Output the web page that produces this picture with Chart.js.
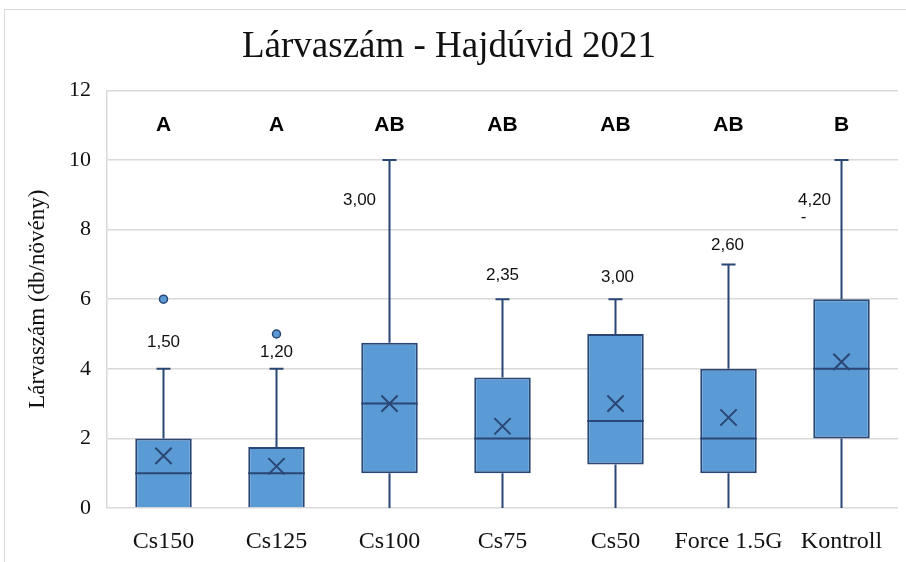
<!DOCTYPE html>
<html><head><meta charset="utf-8">
<script src="https://cdn.jsdelivr.net/npm/chart.js@4"></script>
<style>
html,body{margin:0;padding:0;background:#fff}
#wrap{position:relative;width:906px;height:562px;overflow:hidden}
#frame{position:absolute;left:4px;top:9px;width:920px;height:600px;border:1px solid #d9d9d9;box-sizing:border-box}
canvas{position:absolute;left:0;top:0}
</style></head>
<body><div id="wrap"><div id="frame"></div><canvas id="c" width="906" height="562" style="width:906px;height:562px"></canvas></div>
<script>
const categories = ['Cs150','Cs125','Cs100','Cs75','Cs50','Force 1.5G','Kontroll'];
const whiskerLow  = [0, 0, 0, 0, 0, 0, 0];
const q1          = [0, 0, 1, 1, 1.25, 1, 2];
const median      = [1, 1, 3, 2, 2.5, 2, 4];
const q3          = [2, 1.75, 4.75, 3.75, 5, 4, 6];
const whiskerHigh = [4, 4, 10, 6, 6, 7, 10];
const means       = [1.5, 1.2, 3.0, 2.35, 3.0, 2.6, 4.2];
const outliers    = [6, 5, null, null, null, null, null];
const groupLetters = ['A','A','AB','AB','AB','AB','B'];

const NAVY = '#2A4674';
const FILL = '#5B9BD5';
// label placement (pixels) relative to category centre / whisker top
const labelOffsets = [[0,-26],[0,-16],[-30,40],[0,-24],[2,-22],[-1,-19],[-27,40]];

const boxPlugin = {
  id: 'boxParts',
  afterDatasetsDraw(chart) {
    const ctx = chart.ctx, x = chart.scales.x, y = chart.scales.y;
    const meta = chart.getDatasetMeta(2);
    ctx.save();
    ctx.strokeStyle = NAVY;
    ctx.lineWidth = 2;
    categories.forEach((c, i) => {
      const cx = x.getPixelForValue(i);
      const w = meta.data[i].width;
      ctx.beginPath();
      // upper whisker
      ctx.moveTo(cx, y.getPixelForValue(q3[i]));
      ctx.lineTo(cx, y.getPixelForValue(whiskerHigh[i]));
      ctx.moveTo(cx - 7, y.getPixelForValue(whiskerHigh[i]));
      ctx.lineTo(cx + 7, y.getPixelForValue(whiskerHigh[i]));
      // lower whisker
      if (q1[i] > whiskerLow[i]) {
        ctx.moveTo(cx, y.getPixelForValue(q1[i]));
        ctx.lineTo(cx, y.getPixelForValue(whiskerLow[i]));
      }
      // median
      ctx.moveTo(cx - w / 2, y.getPixelForValue(median[i]));
      ctx.lineTo(cx + w / 2, y.getPixelForValue(median[i]));
      ctx.stroke();
    });
    ctx.restore();
  },
  afterDraw(chart) {
    const ctx = chart.ctx, x = chart.scales.x, y = chart.scales.y;
    ctx.save();
    ctx.textAlign = 'center';
    ctx.textBaseline = 'middle';
    categories.forEach((c, i) => {
      const cx = x.getPixelForValue(i);
      ctx.fillStyle = '#000';
      ctx.font = 'bold 21px "Liberation Sans", Arial, sans-serif';
      ctx.fillText(groupLetters[i], cx, y.getPixelForValue(11));
      ctx.fillStyle = '#111';
      ctx.font = '17px "Liberation Sans", Arial, sans-serif';
      const [dx, dy] = labelOffsets[i];
      ctx.fillText(means[i].toFixed(2).replace('.', ','), cx + dx, y.getPixelForValue(whiskerHigh[i]) + dy);
    });
    // small stray dash under the last label
    const last = categories.length - 1;
    ctx.fillText('-', x.getPixelForValue(last) - 38, y.getPixelForValue(whiskerHigh[last]) + 57);
    ctx.restore();
  }
};

new Chart(document.getElementById('c'), {
  type: 'bar',
  data: {
    labels: categories,
    datasets: [
      {
        type: 'line',
        data: means,
        showLine: false,
        pointStyle: 'crossRot',
        pointRadius: 11.5,
        borderColor: NAVY,
        borderWidth: 2,
        order: 0
      },
      {
        type: 'line',
        data: outliers,
        showLine: false,
        pointStyle: 'circle',
        pointRadius: 4,
        backgroundColor: FILL,
        borderColor: NAVY,
        borderWidth: 1.5,
        order: 0
      },
      {
        type: 'bar',
        data: categories.map((c, i) => [q1[i], q3[i]]),
        backgroundColor: FILL,
        borderColor: NAVY,
        borderWidth: 2,
        borderSkipped: (ctx) => (q1[ctx.dataIndex] === 0 ? 'start' : false),
        barPercentage: 0.5,
        categoryPercentage: 1.0,
        order: 1
      }
    ]
  },
  options: {
    responsive: false,
    animation: false,
    devicePixelRatio: 1,
    layout: { autoPadding: false, padding: { left: 0, right: 8, top: 0, bottom: 0 } },
    plugins: {
      legend: { display: false },
      tooltip: { enabled: false },
      title: {
        display: true,
        text: 'Lárvaszám - Hajdúvid 2021',
        color: '#111',
        font: { family: '"Liberation Serif", "Times New Roman", serif', size: 37, weight: 'normal' },
        padding: { top: 25, bottom: 21 }
      }
    },
    scales: {
      x: {
        grid: { display: false },
        border: { display: false },
        ticks: {
          color: '#111',
          font: { family: '"Liberation Serif", "Times New Roman", serif', size: 24 },
          padding: 11,
          maxRotation: 0,
          autoSkip: false
        },
        afterFit(scale) { scale.height = 54; }
      },
      y: {
        min: 0,
        max: 12,
        ticks: {
          stepSize: 2,
          color: '#111',
          font: { family: '"Liberation Serif", "Times New Roman", serif', size: 22 },
          padding: 16
        },
        grid: { color: '#d9d9d9', lineWidth: 1.5, drawTicks: false },
        border: { display: true, color: '#d9d9d9', width: 1.5 },
        title: {
          display: true,
          text: 'Lárvaszám (db/növény)',
          color: '#111',
          font: { family: '"Liberation Serif", "Times New Roman", serif', size: 23, weight: 'normal' },
          padding: { top: 24, bottom: 0 }
        },
        afterFit(scale) { scale.width = 107; }
      }
    }
  },
  plugins: [boxPlugin]
});
</script>
</body></html>
